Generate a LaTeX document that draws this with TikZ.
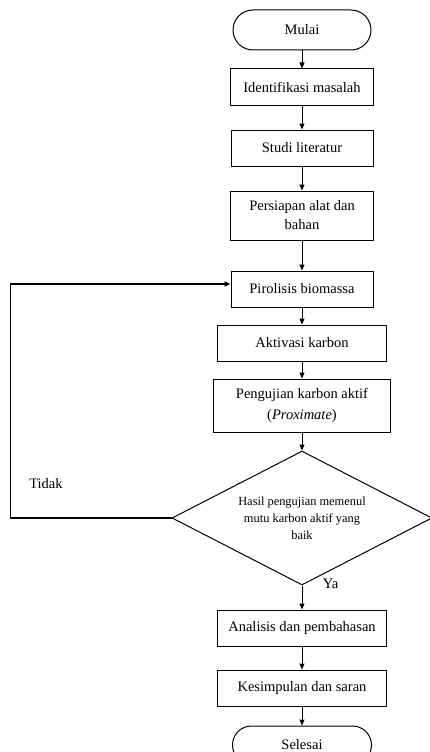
\documentclass[tikz,border=0pt]{standalone}
\usepackage{fontspec}
\setmainfont{Liberation Serif}
\usetikzlibrary{positioning,shapes.geometric,arrows.meta}
\newcommand{\boxfont}{\fontsize{14.5}{19}\selectfont}
\newcommand{\cekfont}{\fontsize{12.4}{17}\selectfont}

\begin{document}
\begin{tikzpicture}[font=\boxfont, line width=1pt,
  kotak/.style={draw, align=center, minimum height=36pt, inner sep=4pt},
  ujung/.style={draw, rounded corners=19pt, minimum height=38pt},
  panah/.style={-{Triangle[length=6pt,width=5pt]}}]
\useasboundingbox (0,0) rectangle (429pt,-752pt);
\node[ujung, minimum width=138pt, minimum height=40pt, rounded corners=20pt] (mulai) at (302pt,-30pt) {Mulai};
\node[kotak, minimum width=143pt, below=18pt of mulai] (identifikasi) {Identifikasi masalah};
\node[kotak, minimum width=142pt, below=24pt of identifikasi] (studi) {Studi literatur};
\node[kotak, minimum width=143pt, minimum height=49pt, below=24pt of studi] (persiapan) {Persiapan alat dan\\bahan};
\node[kotak, minimum width=142pt, below=30pt of persiapan] (pirolisis) {Pirolisis biomassa};
\node[kotak, minimum width=169pt, below=17pt of pirolisis] (aktivasi) {Aktivasi karbon};
\node[kotak, minimum width=177pt, minimum height=53pt, below=17pt of aktivasi] (pengujian) {Pengujian karbon aktif\\[2pt](\textit{Proximate})};
\node[draw, diamond, aspect=1.94, inner sep=0pt, minimum width=260pt, minimum height=134pt,
  align=center, font=\cekfont, below=18pt of pengujian] (cek) {Hasil pengujian memenul\\mutu karbon aktif yang\\baik};
\node[kotak, minimum width=169pt, below=24pt of cek] (analisis) {Analisis dan pembahasan};
\node[kotak, minimum width=169pt, below=23pt of analisis] (kesimpulan) {Kesimpulan dan saran};
\node[ujung, minimum width=139pt, below=19pt of kesimpulan] (selesai) {Selesai};

% jalur utama
\draw[panah] (mulai) -- (identifikasi);
\draw[panah] (identifikasi) -- (studi);
\draw[panah] (studi) -- (persiapan);
\draw[panah] (persiapan) -- (pirolisis);
\draw[panah] (pirolisis) -- (aktivasi);
\draw[panah] (aktivasi) -- (pengujian);
\draw[panah] (pengujian) -- (cek);
\draw[panah] (cek) -- (analisis);
\draw[panah] (analisis) -- (kesimpulan);
\draw[panah] (kesimpulan) -- (selesai);

% kembali jika tidak
\coordinate[left=161pt of cek.west] (kiri);
\draw[panah, line width=1.5pt] (cek.west) -- (kiri) |- ([yshift=5pt]pirolisis.west);
\node (tidak) at (46pt,-484pt) {Tidak};
\node[anchor=west] (ya) at ([xshift=17pt,yshift=2pt]cek.south) {Ya};
\end{tikzpicture}
\end{document}
